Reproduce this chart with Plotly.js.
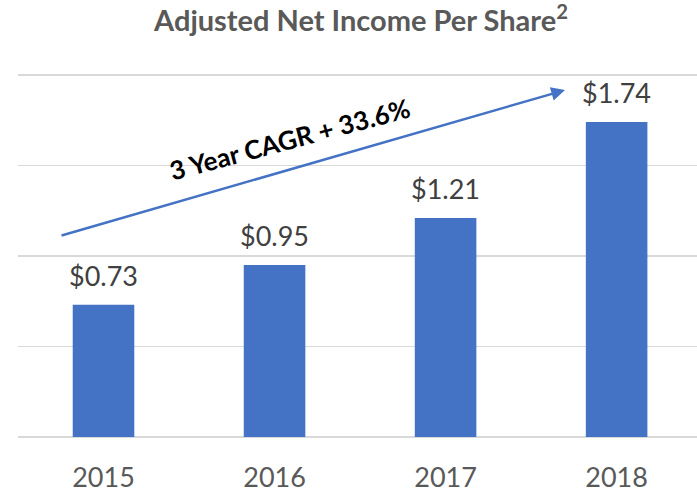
<!DOCTYPE html>
<html>
<head>
<meta charset="utf-8">
<script src="https://cdn.plot.ly/plotly-3.0.1.min.js"></script>
<style>
html,body{margin:0;padding:0;overflow:hidden;background:#fff;}
#chart{width:697px;height:490px;}
</style>
</head>
<body>
<div id="chart"></div>
<script>
var years = ['2015', '2016', '2017', '2018'];
var eps = [0.73, 0.95, 1.21, 1.74];
var epsLabels = ['$0.73', '$0.95', '$1.21', '$1.74'];
var chartTitle = 'Adjusted Net Income Per Share<sup>2</sup>';
var cagrText = '3 Year CAGR + 33.6%';

var FONT = 'Lato, "Open Sans", sans-serif';

var trace = {
  type: 'bar',
  x: years,
  y: eps,
  marker: {color: '#4472C4'},
  hoverinfo: 'none'
};

var annotations = years.map(function (yr, i) {
  return {
    x: i, y: eps[i], xref: 'x', yref: 'y',
    text: epsLabels[i], showarrow: false,
    xanchor: 'center', yanchor: 'bottom', yshift: 11,
    font: {family: FONT, size: 27, color: '#404040'}
  };
});

annotations.push({
  xref: 'paper', yref: 'paper',
  x: 0.8056, y: 0.953, ax: 0.0619, ay: 0.5525,
  axref: 'paper', ayref: 'paper',
  text: '', showarrow: true,
  arrowhead: 2, arrowsize: 1.1, arrowwidth: 2.5, arrowcolor: '#4472C4'
});

annotations.push({
  xref: 'paper', yref: 'paper',
  x: 0.401, y: 0.818,
  xanchor: 'center', yanchor: 'middle',
  text: '<b>' + cagrText + '</b>', showarrow: false,
  textangle: -15,
  font: {family: FONT, size: 26, color: '#000000'}
});

var layout = {
  width: 697, height: 490,
  margin: {l: 18, r: 0, t: 73, b: 53},
  paper_bgcolor: '#ffffff', plot_bgcolor: '#ffffff',
  showlegend: false,
  bargap: 0.64,
  title: {
    text: '<b>' + chartTitle + '</b>',
    x: 0.518, xanchor: 'center',
    y: 1 - 11 / 490, yanchor: 'top', yref: 'container',
    font: {family: FONT, size: 29, color: '#595959'}
  },
  xaxis: {
    type: 'category',
    range: [-0.5, 3.47],
    showgrid: false, zeroline: false, showline: false,
    ticks: '', ticklabelstandoff: 22,
    tickfont: {family: FONT, size: 27, color: '#595959'},
    fixedrange: true
  },
  yaxis: {
    range: [0, 2.011],
    tickvals: [0, 0.5, 1, 1.5, 2],
    showgrid: true, gridcolor: '#d9d9d9', gridwidth: 1.5,
    zeroline: true, zerolinecolor: '#d9d9d9', zerolinewidth: 1.5,
    showticklabels: false, ticks: '', showline: false,
    fixedrange: true
  },
  annotations: annotations
};

Plotly.newPlot('chart', [trace], layout, {displayModeBar: false, staticPlot: true});
</script>
</body>
</html>
